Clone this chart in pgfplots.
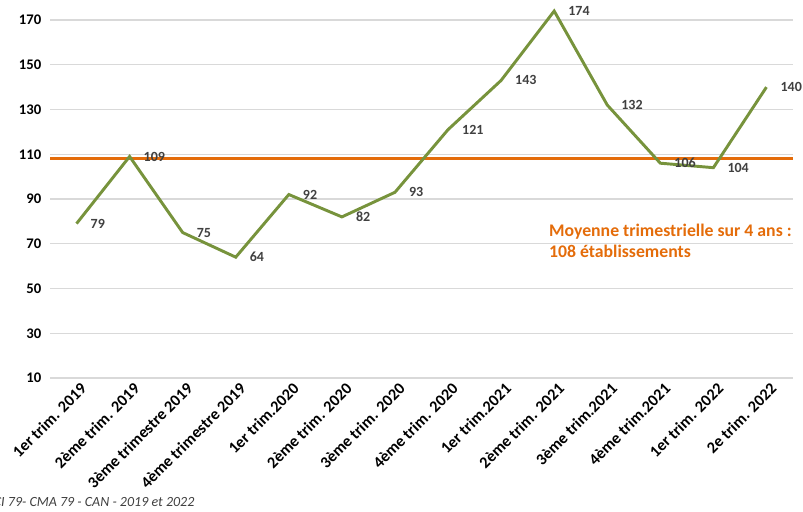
\documentclass[border=0pt]{standalone}
\usepackage{pgfplots}
\pgfplotsset{compat=1.18}
\usepackage{fontspec}
\setmainfont{Carlito}
\definecolor{ligne}{HTML}{77933C}
\definecolor{moy}{HTML}{E46C0A}
\definecolor{etiq}{HTML}{404040}
\definecolor{grille}{HTML}{D9D9D9}
\begin{document}
\begin{tikzpicture}
\useasboundingbox (0,0) rectangle (602.25pt,383.25pt);
\begin{axis}[
  at={(37.5pt,99.75pt)}, anchor=south west,
  scale only axis, width=557.25pt, height=268.5pt,
  xmin=-0.5, xmax=13.5, ymin=10, ymax=170,
  ytick={10,30,...,170},
  xtick={0,...,13},
  xticklabels={1er trim. 2019, 2ème trim. 2019, 3ème trimestre 2019, 4ème trimestre 2019,
    1er trim.2020, 2ème trim. 2020, 3ème trim. 2020, 4ème trim. 2020,
    1er trim.2021, 2ème trim. 2021, 3ème trim.2021, 4ème trim.2021,
    1er trim. 2022, 2e trim. 2022},
  axis line style={draw=none},
  major tick length=0pt,
  ymajorgrids, grid style={grille, line width=0.8pt},
  yticklabel style={font=\fontsize{11}{12}\selectfont\bfseries, xshift=-3pt,
    /pgf/number format/assume math mode=true},
  xticklabel style={font=\fontsize{12.2}{13}\selectfont\bfseries, rotate=45, anchor=east,
    xshift=3pt, yshift=-8pt},
  clip=false,
]
\addplot[moy, line width=2.4pt] coordinates {(-0.5,108) (13.5,108)};
\addplot[ligne, line width=2.2pt,
  nodes near coords,
  nodes near coords style={anchor=west, xshift=9.5pt, inner sep=0pt,
    font=\fontsize{10.5}{12}\selectfont\bfseries, text=etiq,
    /pgf/number format/assume math mode=true}]
  coordinates {(0,79) (1,109) (2,75) (3,64) (4,92) (5,82) (6,93) (7,121)
    (8,143) (9,174) (10,132) (11,106) (12,104) (13,140)};
\node[anchor=west, align=left, text=moy, inner sep=0pt,
  font=\fontsize{13.3}{15.75}\selectfont\bfseries]
  at (axis cs:8.9,71.5) {Moyenne trimestrielle sur 4 ans :\\108 établissements};
\end{axis}
\node[anchor=east, inner sep=0pt, text=etiq, font=\fontsize{10.5}{12}\selectfont\itshape]
  at (146pt,6.5pt) {CCI 79- CMA 79 - CAN - 2019 et 2022};
\end{tikzpicture}
\end{document}
